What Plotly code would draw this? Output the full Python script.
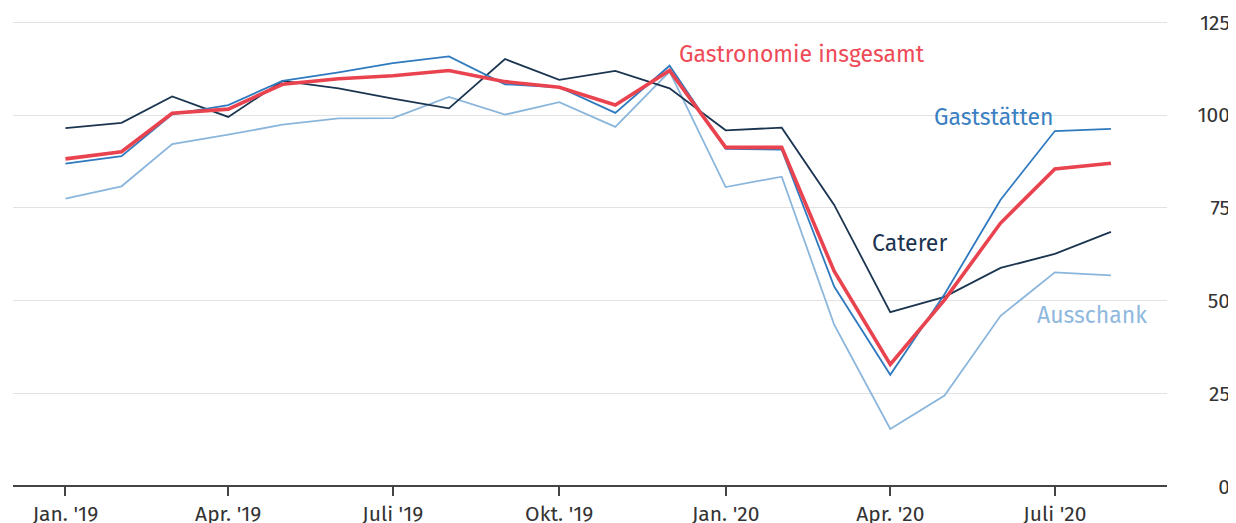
import plotly.graph_objects as go

months = ["2019-01-01", "2019-02-01", "2019-03-01", "2019-04-01", "2019-05-01",
          "2019-06-01", "2019-07-01", "2019-08-01", "2019-09-01", "2019-10-01",
          "2019-11-01", "2019-12-01", "2020-01-01", "2020-02-01", "2020-03-01",
          "2020-04-01", "2020-05-01", "2020-06-01", "2020-07-01", "2020-08-01"]

gastronomie = [88.2, 90.1, 100.5, 101.6, 108.3, 109.8, 110.6, 112.0, 109.0, 107.5,
               102.7, 112.0, 91.3, 91.3, 57.9, 32.8, 50.2, 70.9, 85.5, 87.0]
gaststaetten = [86.9, 88.9, 100.2, 102.7, 109.2, 111.5, 114.0, 115.8, 108.3, 107.5,
                100.6, 113.3, 90.9, 90.7, 53.8, 30.0, 51.7, 77.2, 95.7, 96.3]
caterer = [96.5, 97.9, 105.0, 99.5, 109.2, 107.2, 104.4, 101.8, 115.1, 109.5,
           111.9, 107.2, 95.9, 96.6, 75.8, 46.9, 51.0, 58.8, 62.6, 68.5]
ausschank = [77.5, 80.8, 92.2, 94.7, 97.4, 99.1, 99.2, 104.9, 100.1, 103.5,
             96.8, 111.7, 80.6, 83.4, 43.5, 15.4, 24.4, 45.9, 57.6, 56.8]

tick_dates = ["2019-01-01", "2019-04-01", "2019-07-01", "2019-10-01",
              "2020-01-01", "2020-04-01", "2020-07-01"]
tick_labels = ["Jan. '19", "Apr. '19", "Juli '19", "Okt. '19",
               "Jan. '20", "Apr. '20", "Juli '20"]
y_ticks = [0, 25, 50, 75, 100, 125]

C_RED = "#e9434f"
C_GAST = "#2f7abf"
C_CAT = "#1b3550"
C_AUS = "#8bb6dc"

FONT = "Fira Sans, Open Sans, Noto Sans, sans-serif"

fig = go.Figure()
fig.add_trace(go.Scatter(x=months, y=ausschank, mode="lines", name="Ausschank",
                         line=dict(color=C_AUS, width=1.8)))
fig.add_trace(go.Scatter(x=months, y=caterer, mode="lines", name="Caterer",
                         line=dict(color=C_CAT, width=1.8)))
fig.add_trace(go.Scatter(x=months, y=gaststaetten, mode="lines", name="Gaststätten",
                         line=dict(color=C_GAST, width=1.8)))
fig.add_trace(go.Scatter(x=months, y=gastronomie, mode="lines", name="Gastronomie insgesamt",
                         line=dict(color=C_RED, width=3.6)))

labels = [
    ("Gastronomie insgesamt", "2019-12-05", 116.5, "#ee4b58"),
    ("Gaststätten", "2020-04-24", 99.5, "#3a80c3"),
    ("Caterer", "2020-03-21", 65.5, C_CAT),
    ("Ausschank", "2020-06-20", 46.0, "#8fb9de"),
]
for text, x, y, col in labels:
    fig.add_annotation(x=x, y=y, text=text, showarrow=False, xanchor="left",
                       yanchor="middle", font=dict(family=FONT, size=23, color=col))

Y_MIN, Y_MAX = -4, 128.85

# page body has an 8px default margin; figure sized to fit inside the window
fig.update_layout(
    width=1228, height=515,
    margin=dict(l=5, r=3, t=0, b=21.5),
    plot_bgcolor="white", paper_bgcolor="white",
    showlegend=False,
    font=dict(family=FONT, color="#333333"),
    xaxis=dict(
        domain=[0, 0.9459],
        range=["2018-12-03", "2020-09-01"],
        anchor="free", position=(0 - Y_MIN) / (Y_MAX - Y_MIN),
        tickmode="array", tickvals=tick_dates, ticktext=tick_labels,
        ticks="outside", ticklen=9, tickwidth=1.5, tickcolor="#444444",
        showline=True, linecolor="#444444", linewidth=1.5,
        showgrid=False, zeroline=False, automargin=False,
        tickfont=dict(family=FONT, size=21, color="#333333"),
    ),
    yaxis=dict(
        range=[Y_MIN, Y_MAX],
        anchor="free", position=1.0, side="right",
        ticklabelposition="inside",
        tickmode="array", tickvals=y_ticks,
        showgrid=True, gridcolor="#e2e2e2", gridwidth=1,
        zeroline=False, showline=False, ticks="", automargin=False,
        tickfont=dict(family=FONT, size=21, color="#333333"),
    ),
)

fig.write_html("out.html")
